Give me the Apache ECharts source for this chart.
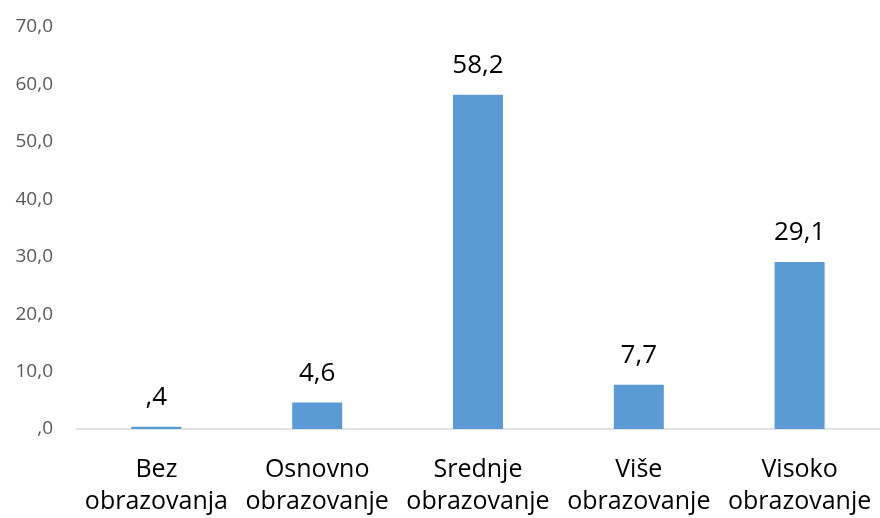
<!DOCTYPE html>
<html><head><meta charset="utf-8">
<script src="https://cdn.jsdelivr.net/npm/echarts@6/dist/echarts.min.js"></script>
<style>html,body{margin:0;padding:0;background:#fff}#c{width:880px;height:518px}</style>
</head><body><div id="c"></div>
<script>
const categories = ['Bez\nobrazovanja','Osnovno\nobrazovanje','Srednje\nobrazovanje','Više\nobrazovanje','Visoko\nobrazovanje'];
const values = [0.4, 4.6, 58.2, 7.7, 29.1];
function fmt(v){ return Number(v).toFixed(1).replace('.', ',').replace(/^0,/, ','); }
const chart = echarts.init(document.getElementById('c'));
chart.setOption({
  animation:false,
  grid:{left:76, top:27, width:806, height:403},
  xAxis:{type:'category', data:categories,
    axisLine:{lineStyle:{color:'#d9d9d9', width:1.5}}, axisTick:{show:false},
    axisLabel:{color:'#000', fontSize:25, fontFamily:'Open Sans', lineHeight:32, margin:25, interval:0}},
  yAxis:{type:'value', min:0, max:70, interval:10,
    axisLine:{show:false}, axisTick:{show:false}, splitLine:{show:false},
    axisLabel:{color:'#595959', fontSize:19, fontFamily:'Open Sans', margin:23, formatter:fmt}},
  series:[{type:'bar', data:values, barWidth:50, itemStyle:{color:'#5b9bd5'},
    label:{show:true, position:'top', distance:16, color:'#000', fontSize:26, fontFamily:'Open Sans', formatter:p=>fmt(p.value)}}]
});
</script></body></html>
